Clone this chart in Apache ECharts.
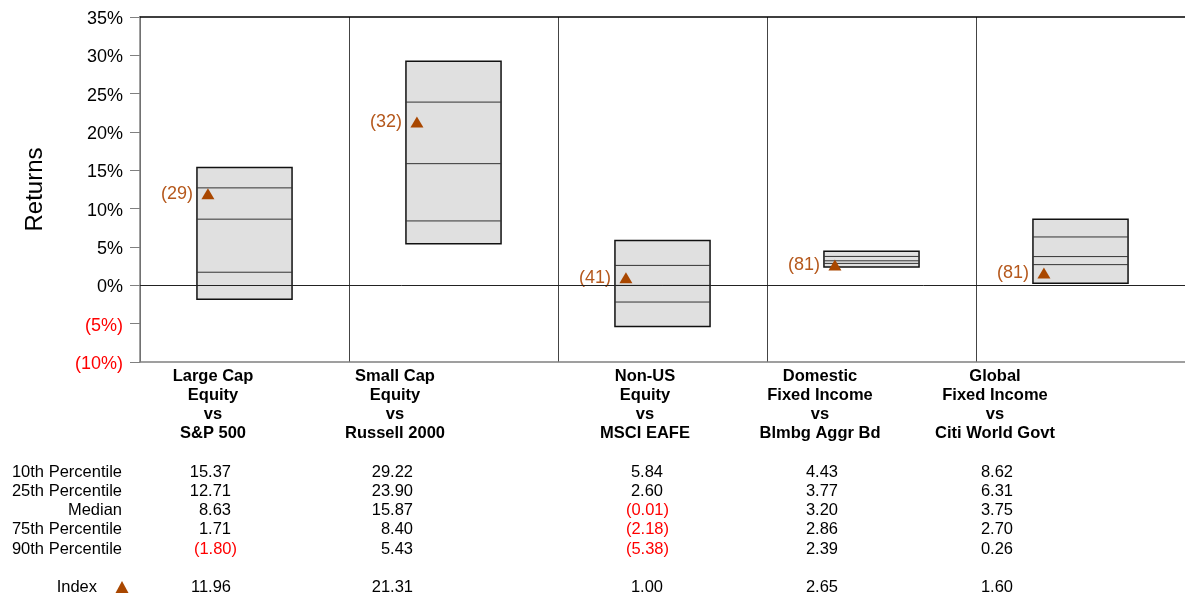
<!DOCTYPE html>
<html>
<head>
<meta charset="utf-8">
<script src="https://cdn.jsdelivr.net/npm/echarts@6/dist/echarts.min.js"></script>
<style>
  html, body { margin: 0; padding: 0; background: #fff; }
  #chart { width: 1185px; height: 596px; }
</style>
</head>
<body>
<div id="chart"></div>
<script>
// chart values
const categories = [
  'Large Cap\nEquity\nvs\nS&P 500',
  'Small Cap\nEquity\nvs\nRussell 2000',
  'Non-US\nEquity\nvs\nMSCI EAFE',
  'Domestic\nFixed Income\nvs\nBlmbg Aggr Bd',
  'Global\nFixed Income\nvs\nCiti World Govt'
];
const p10 = [15.37, 29.22, 5.84, 4.43, 8.62];
const p25 = [12.71, 23.90, 2.60, 3.77, 6.31];
const median = [8.63, 15.87, -0.01, 3.20, 3.75];
const p75 = [1.71, 8.40, -2.18, 2.86, 2.70];
const p90 = [-1.80, 5.43, -5.38, 2.39, 0.26];
const indexValues = [11.96, 21.31, 1.00, 2.65, 1.60];
const indexRanks = [29, 32, 41, 81, 81];
const rowLabels = ['10th Percentile', '25th Percentile', 'Median', '75th Percentile', '90th Percentile'];

const FONT = '"Liberation Sans", Arial, sans-serif';
const BROWN = '#a94700';
const BROWN_TEXT = '#b5581c';

const boxData = categories.map((c, i) => [i, p10[i], p25[i], median[i], p75[i], p90[i]]);
const indexData = categories.map((c, i) => [i, indexValues[i], indexRanks[i]]);

const chart = echarts.init(document.getElementById('chart'));

function fmtNum(v) {
  return v < 0 ? '(' + Math.abs(v).toFixed(2) + ')' : v.toFixed(2);
}

// table text column layout (right edge of numbers)
const colRight = [231, 413, 663, 838, 1013];
const rowY0 = 472, rowStep = 19.3, indexRowY = 587;

function buildTable() {
  const els = [];
  categories.forEach((c, i) => {
    els.push({
      type: 'text', x: colRight[i] - 18, y: 367,
      style: { text: c, fill: '#000', font: 'bold 16.5px ' + FONT,
               lineHeight: 19, align: 'center', verticalAlign: 'top' }
    });
  });
  const cols = [p10, p25, median, p75, p90];
  rowLabels.forEach((lbl, r) => {
    const y = rowY0 + r * rowStep;
    els.push({ type: 'text', x: 122, y: y,
      style: { text: lbl, fill: '#000', font: '16.5px ' + FONT, align: 'right', verticalAlign: 'middle' } });
    cols[r].forEach((v, i) => {
      els.push({ type: 'text', x: colRight[i] + (v < 0 ? 6 : 0), y: y,
        style: { text: fmtNum(v), fill: v < 0 ? '#ff0000' : '#000', font: '16.5px ' + FONT,
                 align: 'right', verticalAlign: 'middle' } });
    });
  });
  els.push({ type: 'text', x: 97, y: indexRowY,
    style: { text: 'Index', fill: '#000', font: '16.5px ' + FONT, align: 'right', verticalAlign: 'middle' } });
  els.push({ type: 'polygon', shape: { points: [[122, indexRowY - 6], [115.5, indexRowY + 6], [128.5, indexRowY + 6]] },
    style: { fill: BROWN } });
  indexValues.forEach((v, i) => {
    els.push({ type: 'text', x: colRight[i] + (v < 0 ? 6 : 0), y: indexRowY,
      style: { text: fmtNum(v), fill: v < 0 ? '#ff0000' : '#000', font: '16.5px ' + FONT,
               align: 'right', verticalAlign: 'middle' } });
  });
  return els;
}

const option = {
  animation: false,
  backgroundColor: '#fff',
  grid: { left: 140, right: 0, top: 17, bottom: 234, containLabel: false },
  xAxis: [{
    type: 'category',
    data: categories,
    axisLine: { onZero: false, lineStyle: { color: '#808080', width: 1.5 } },
    axisTick: { show: false },
    axisLabel: { show: false },
    splitLine: { show: true, lineStyle: { color: '#444', width: 1 } }
  }, {
    type: 'category',
    position: 'top',
    data: categories,
    axisLine: { onZero: false, lineStyle: { color: '#000', width: 1.5 } },
    axisTick: { show: false },
    axisLabel: { show: false }
  }],
  yAxis: {
    type: 'value',
    min: -10, max: 35, interval: 5,
    name: 'Returns',
    nameLocation: 'middle',
    nameGap: 93,
    nameTextStyle: { fontFamily: FONT, fontSize: 24, color: '#000' },
    axisLine: { show: true, lineStyle: { color: '#808080', width: 1.5 } },
    axisTick: { show: true, length: 10, lineStyle: { color: '#808080' } },
    splitLine: { show: false },
    axisLabel: {
      margin: 17,
      fontFamily: FONT, fontSize: 18, color: '#000',
      padding: [4, 0, 0, 0],
      formatter: v => v < 0 ? '{neg|(' + Math.abs(v) + '%)}' : v + '%',
      rich: { neg: { color: '#ff0000', fontFamily: FONT, fontSize: 18 } }
    }
  },
  series: [{
    type: 'custom',
    data: boxData,
    renderItem: function (params, api) {
      const i = api.value(0);
      const bw = api.size([1, 0])[0] * 0.455;
      const cx = api.coord([i, 0])[0];
      const yTop = api.coord([i, api.value(1)])[1];
      const yBot = api.coord([i, api.value(5)])[1];
      const x0 = cx - bw / 2, x1 = cx + bw / 2;
      const children = [{
        type: 'rect',
        shape: { x: x0, y: yTop, width: bw, height: yBot - yTop },
        style: { fill: '#e0e0e0', stroke: '#111', lineWidth: 1.5 }
      }];
      [2, 3, 4].forEach(k => {
        const y = api.coord([i, api.value(k)])[1];
        children.push({ type: 'line', shape: { x1: x0, y1: y, x2: x1, y2: y },
          style: { stroke: '#333', lineWidth: 1 } });
      });
      return { type: 'group', children: children };
    },
    markLine: {
      silent: true, symbol: 'none', label: { show: false },
      lineStyle: { color: '#222', width: 1, type: 'solid' },
      data: [{ yAxis: 0 }]
    },
    z: 2
  }, {
    type: 'custom',
    data: indexData,
    renderItem: function (params, api) {
      const i = api.value(0);
      const p = api.coord([i, api.value(1)]);
      const tx = p[0] - api.size([1, 0])[0] * 0.175;
      const ty = p[1];
      return {
        type: 'group',
        children: [{
          type: 'polygon',
          shape: { points: [[tx, ty - 5.5], [tx - 6.5, ty + 5.5], [tx + 6.5, ty + 5.5]] },
          style: { fill: BROWN }
        }, {
          type: 'text',
          x: tx - 15, y: ty,
          style: { text: '(' + api.value(2) + ')', fill: BROWN_TEXT, font: '18px ' + FONT,
                   align: 'right', verticalAlign: 'middle' }
        }]
      };
    },
    z: 3
  }],
  graphic: buildTable()
};

chart.setOption(option);
</script>
</body>
</html>
